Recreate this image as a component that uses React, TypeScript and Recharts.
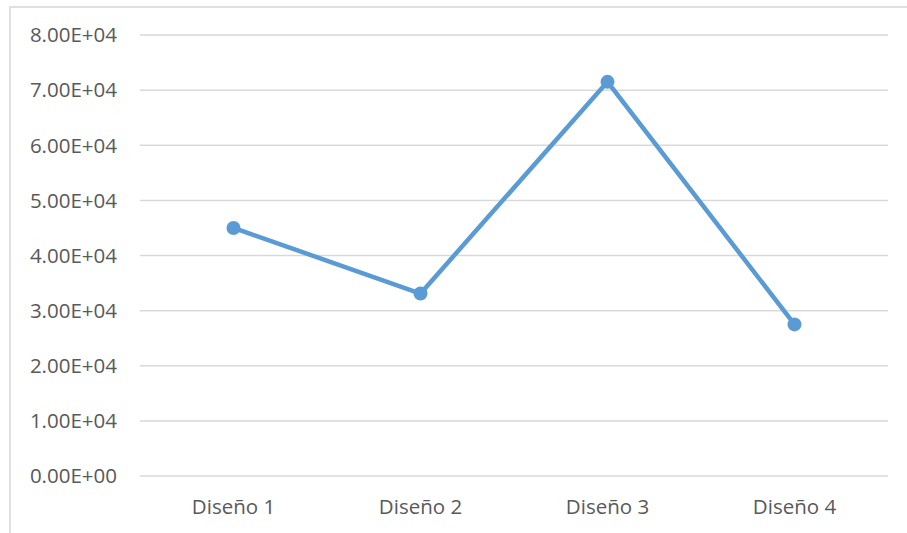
import React from 'react';
import { LineChart, Line, XAxis, YAxis, CartesianGrid } from 'recharts';

const categories = ['Diseño 1', 'Diseño 2', 'Diseño 3', 'Diseño 4'];
const values = [45000, 33100, 71500, 27500];
const yTicks = [0, 10000, 20000, 30000, 40000, 50000, 60000, 70000, 80000];

const data = categories.map((name, i) => ({ name, value: values[i] }));

const fmt = (v: number) => {
  const s = v.toExponential(2); // e.g. 8.00e+4
  const [m, e] = s.split('e');
  const sign = e[0] === '-' ? '-' : '+';
  const digits = e.replace(/[+-]/, '').padStart(2, '0');
  return `${m}E${sign}${digits}`;
};

const FONT = '"Open Sans", sans-serif';

export default function App() {
  return (
    <div style={{ position: 'absolute', left: 0, top: 0, width: 907, height: 533, background: '#fff', overflow: 'hidden' }}>
      <div
        style={{
          position: 'absolute',
          left: 9,
          top: 6,
          width: 910,
          height: 540,
          borderTop: '2px solid #e0e0e0',
          borderLeft: '2px solid #e0e0e0',
          boxSizing: 'border-box',
        }}
      />
      <div style={{ position: 'absolute', left: 0, top: 0 }}>
        <LineChart width={907} height={533} data={data} margin={{ top: 35, right: 19, bottom: 0, left: 10 }}>
          <CartesianGrid vertical={false} stroke="#d9d9d9" strokeWidth={1.5} />
          <XAxis
            dataKey="name"
            axisLine={false}
            tickLine={false}
            height={57}
            tickSize={0}
            tickMargin={23}
            padding={{ left: 93.5, right: 93.5 }}
            tick={{ fill: '#595959', fontSize: 20.5, fontFamily: FONT }}
          />
          <YAxis
            domain={[0, 80000]}
            ticks={yTicks}
            tickFormatter={fmt}
            axisLine={false}
            tickLine={false}
            width={130}
            tickSize={0}
            tickMargin={23}
            interval={0}
            tick={{ fill: '#595959', fontSize: 20.5, fontFamily: FONT }}
          />
          <Line
            type="linear"
            dataKey="value"
            stroke="#5B9BD5"
            strokeWidth={4.5}
            dot={{ r: 7, fill: '#5B9BD5', stroke: '#5B9BD5', strokeWidth: 0 }}
            isAnimationActive={false}
          />
        </LineChart>
      </div>
    </div>
  );
}
